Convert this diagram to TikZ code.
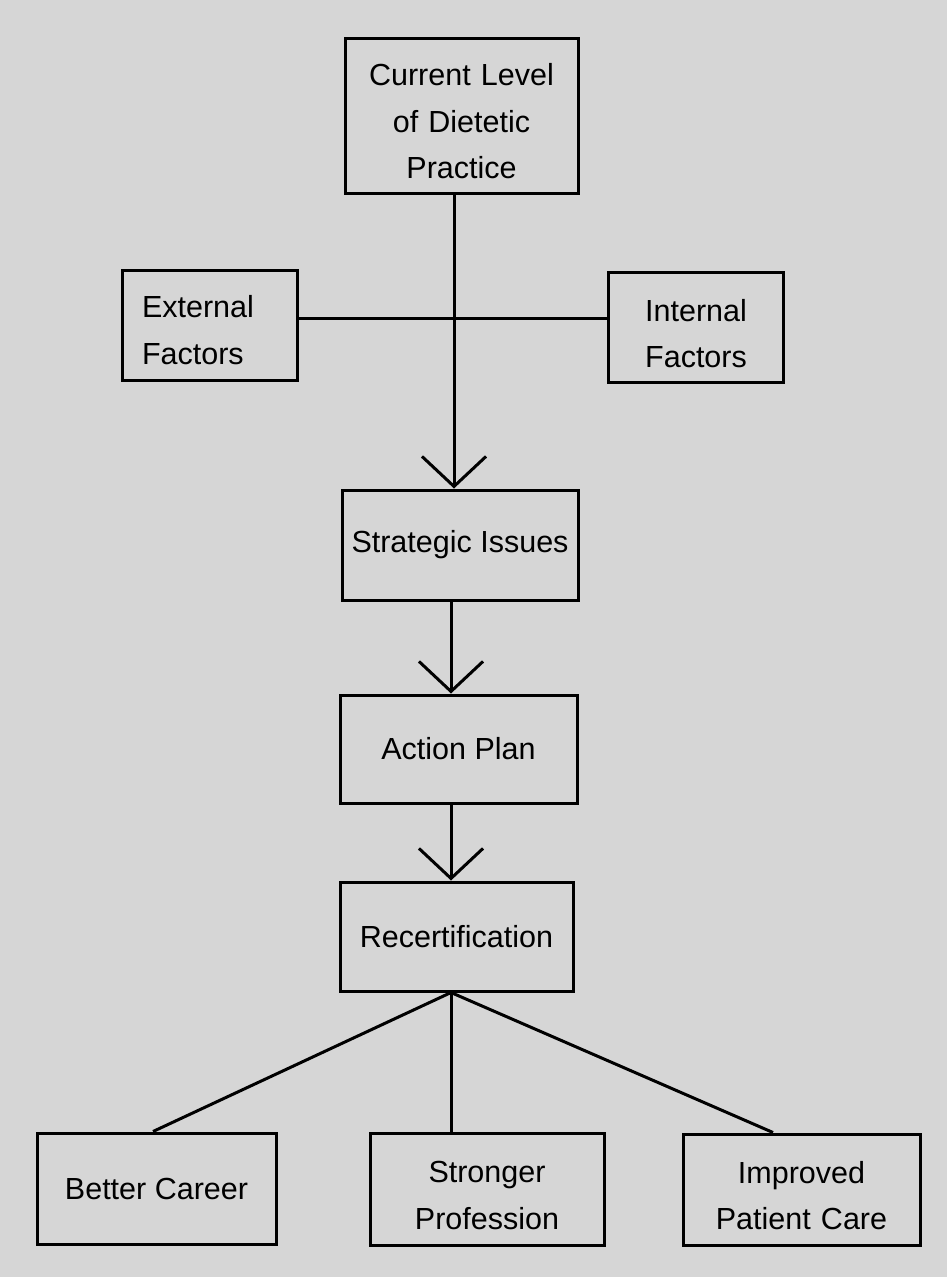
\documentclass[tikz,border=0pt]{standalone}
\usepackage{fontspec}
\setmainfont{Liberation Sans}
\usetikzlibrary{arrows.meta}
\begin{document}
\begin{tikzpicture}[x=1pt,y=-1pt,line cap=butt,line join=miter,line width=3pt,>={Straight Barb[length=30pt,width=64pt]}]
		\tikzset{box/.style={draw,inner sep=0pt,align=center,font=\fontsize{30.5}{46.5}\selectfont},
			drop/.style={inner xsep=20pt,execute at begin node={\rule{0pt}{#1}}},drop/.default=34pt}
		\fill[black!16] (0,0) rectangle (947,1277);
		\node[box,drop,minimum width=233,minimum height=155,text width=193] (cur) at (461.5,115.5) {Current Level\\of Dietetic\\Practice};
		\node[box,drop=32pt,minimum width=175,minimum height=110,text width=135,align=left] (ext) at (209.5,325) {External\\Factors};
		\node[box,drop,minimum width=175,minimum height=110,text width=135] (int) at (696,327.5) {Internal\\Factors};
		\node[box,minimum width=236,minimum height=110] (strat) at (460,545) {Strategic Issues};
		\node[box,minimum width=237,minimum height=108] (act) at (458.5,749) {Action Plan};
		\node[box,minimum width=233,minimum height=109] (rec) at (456.5,936.5) {Recertification};
		\node[box,minimum width=239,minimum height=111] (car) at (156.5,1188.5) {Better Career};
		\node[box,drop,minimum width=234,minimum height=112,text width=194] (pro) at (487,1189) {Stronger\\Profession};
		\node[box,drop,minimum width=237,minimum height=111,text width=197] (care) at (801.5,1189.5) {Improved\\Patient Care};
		\coordinate (hub) at (454,318);
		\coordinate (spine) at (451,0);
		\draw (cur.south -| hub) -- (hub);
		\draw (ext.east |- hub) -- (int.west |- hub);
		\draw[->] (hub) -- (hub |- strat.north);
		\draw[->] (strat.south -| spine) -- (act.north -| spine);
		\draw[->] (act.south -| spine) -- (rec.north -| spine);
		\coordinate (apex) at (rec.south -| spine);
		\draw (apex) -- ([xshift=-3.5]car.north);
		\draw (apex) -- (apex |- pro.north);
		\draw (apex) -- ([xshift=-28.5]care.north);
\end{tikzpicture}
\end{document}
